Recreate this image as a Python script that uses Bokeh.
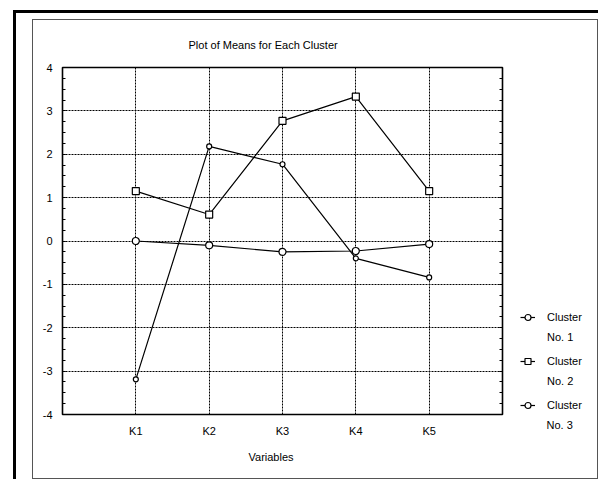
from bokeh.plotting import figure
from bokeh.layouts import column, row
from bokeh.models import (Range1d, FixedTicker, SingleIntervalTicker, LinearAxis, Grid,
                          Legend, LegendItem, ColumnDataSource, Title)
from bokeh.embed import file_html
from bokeh.resources import INLINE

# ---- data ----
variables = ["K1", "K2", "K3", "K4", "K5"]
var_pos = [1, 2, 3, 4, 5]
cluster1 = [0.00, -0.10, -0.25, -0.23, -0.07]
cluster2 = [1.15, 0.61, 2.77, 3.33, 1.15]
cluster3 = [-3.19, 2.18, 1.77, -0.40, -0.84]
series_line1 = ["Cluster", "Cluster", "Cluster"]
series_line2 = ["No. 1", "No. 2", "No. 3"]
y_ticks = [-4, -3, -2, -1, 0, 1, 2, 3, 4]
y_tick_labels = ["-4", "-3", "-2", "-1", "0", "1", "2", "3", "4"]
title_text = "Plot of Means for Each Cluster"
xlabel_text = "Variables"

FONT = "Liberation Sans"
FS = "11px"

p = figure(width=480, height=458, output_backend="svg", toolbar_location=None,
           x_range=Range1d(0, 6), y_range=Range1d(-4, 4),
           min_border_left=29, min_border_right=11, min_border_top=45, min_border_bottom=64,
           x_axis_type=None, y_axis_type=None)
p.background_fill_color = "white"
p.border_fill_color = "white"
p.outline_line_color = "black"
p.outline_line_width = 1.6

# title
p.title.text = title_text
p.title.align = "left"
p.title.offset = 126
p.title.standoff = 33
p.title.text_font = FONT
p.title.text_font_size = FS
p.title.text_font_style = "normal"
p.title.text_color = "black"

# axes
xaxis = LinearAxis(ticker=FixedTicker(ticks=var_pos),
                   major_label_overrides={v: n for v, n in zip(var_pos, variables)})
xaxis.axis_line_color = None
xaxis.major_tick_line_color = None
xaxis.minor_tick_line_color = None
xaxis.major_tick_in = 0
xaxis.major_tick_out = 0
xaxis.minor_tick_in = 0
xaxis.minor_tick_out = 0
xaxis.major_label_standoff = 10
p.add_layout(xaxis, "below")

yaxis = LinearAxis(ticker=SingleIntervalTicker(interval=1, num_minor_ticks=4),
                   major_label_overrides={v: s for v, s in zip(y_ticks, y_tick_labels)})
yaxis.axis_line_color = None
yaxis.major_tick_in = 3
yaxis.major_tick_out = 0
yaxis.minor_tick_in = 3
yaxis.minor_tick_out = 0
yaxis.major_label_standoff = 10
p.add_layout(yaxis, "left")

yaxis2 = LinearAxis(ticker=SingleIntervalTicker(interval=1, num_minor_ticks=4))
yaxis2.axis_line_color = None
yaxis2.major_tick_in = 3
yaxis2.major_tick_out = 0
yaxis2.minor_tick_in = 3
yaxis2.minor_tick_out = 0
yaxis2.major_label_text_alpha = 0
yaxis2.major_label_text_font_size = "1px"
yaxis2.major_label_standoff = 0
p.add_layout(yaxis2, "right")

for ax in (xaxis, yaxis):
    ax.major_label_text_font = FONT
    ax.major_label_text_font_size = FS
    ax.major_label_text_color = "black"

xlab = Title(text=xlabel_text, align="left", offset=186, standoff=19,
             text_font=FONT, text_font_size=FS, text_font_style="normal",
             text_color="black")
p.add_layout(xlab, "below")

# grids
xgrid = Grid(dimension=0, ticker=FixedTicker(ticks=var_pos))
ygrid = Grid(dimension=1, ticker=FixedTicker(ticks=y_ticks))
for g in (xgrid, ygrid):
    g.grid_line_color = "black"
    g.grid_line_dash = "2 1"
    g.grid_line_width = 1
    p.add_layout(g)

# series
src = ColumnDataSource(dict(x=var_pos, c1=cluster1, c2=cluster2, c3=cluster3))
line_kw = dict(line_color="black", line_width=1.2)
mk1 = dict(marker="circle", size=7, fill_color="white", line_color="black", line_width=1.2)
mk2 = dict(marker="square", size=7, fill_color="white", line_color="black", line_width=1.2)
mk3 = dict(marker="circle", size=5, fill_color="white", line_color="black", line_width=1.2)
p.line("x", "c1", source=src, **line_kw)
p.line("x", "c2", source=src, **line_kw)
p.line("x", "c3", source=src, **line_kw)
p.scatter("x", "c1", source=src, **mk1)
p.scatter("x", "c2", source=src, **mk2)
p.scatter("x", "c3", source=src, **mk3)

# legend panel (separate canvas to the right of the plot)
pl = figure(width=84, height=458, output_backend="svg", toolbar_location=None,
            x_range=Range1d(0, 1), y_range=Range1d(0, 1),
            min_border=0, x_axis_type=None, y_axis_type=None, title=None)
pl.outline_line_color = None
pl.background_fill_color = "white"
pl.border_fill_color = "white"
# legend-only proxies, placed outside the visible range
proxy = ColumnDataSource(dict(x=[-2, -1], y=[-2, -1]))
items_a, items_b = [], []
for l1, l2, mk in zip(series_line1, series_line2, (mk1, mk2, mk3)):
    lr = pl.line("x", "y", source=proxy, **line_kw)
    sr = pl.scatter("x", "y", source=proxy, **mk)
    hr = pl.line("x", "y", source=proxy, line_alpha=0)
    items_a.append(LegendItem(label=l1, renderers=[lr, sr]))
    items_b.append(LegendItem(label=l2, renderers=[hr]))

common = dict(padding=0, margin=0, spacing=24, glyph_width=15, glyph_height=20,
              label_standoff=12, label_height=20, border_line_color=None,
              background_fill_alpha=0, label_text_font=FONT, label_text_font_size=FS,
              label_text_color="black")
legend_a = Legend(items=items_a, location=(7, -1), **common)
legend_b = Legend(items=items_b[:2], location=(7, 23), **common)
pl.add_layout(legend_a, "center")
pl.add_layout(legend_b, "center")
# last second-line label sits below the aligned frame, so it goes in the bottom panel
pl.add_layout(Title(text=series_line2[2], align="left", offset=33, standoff=4,
                    text_font=FONT, text_font_size=FS, text_font_style="normal",
                    text_color="black"), "below")

inner = row(p, pl, styles={"margin-left": "16px", "margin-top": "6px",
                           "border": "1px solid #555555"})
layout = column(inner, styles={"margin-left": "13px", "margin-top": "10px",
                               "border-left": "3px solid black",
                               "border-top": "3px solid black"})

open("out.html", "w").write(file_html(layout, INLINE))
